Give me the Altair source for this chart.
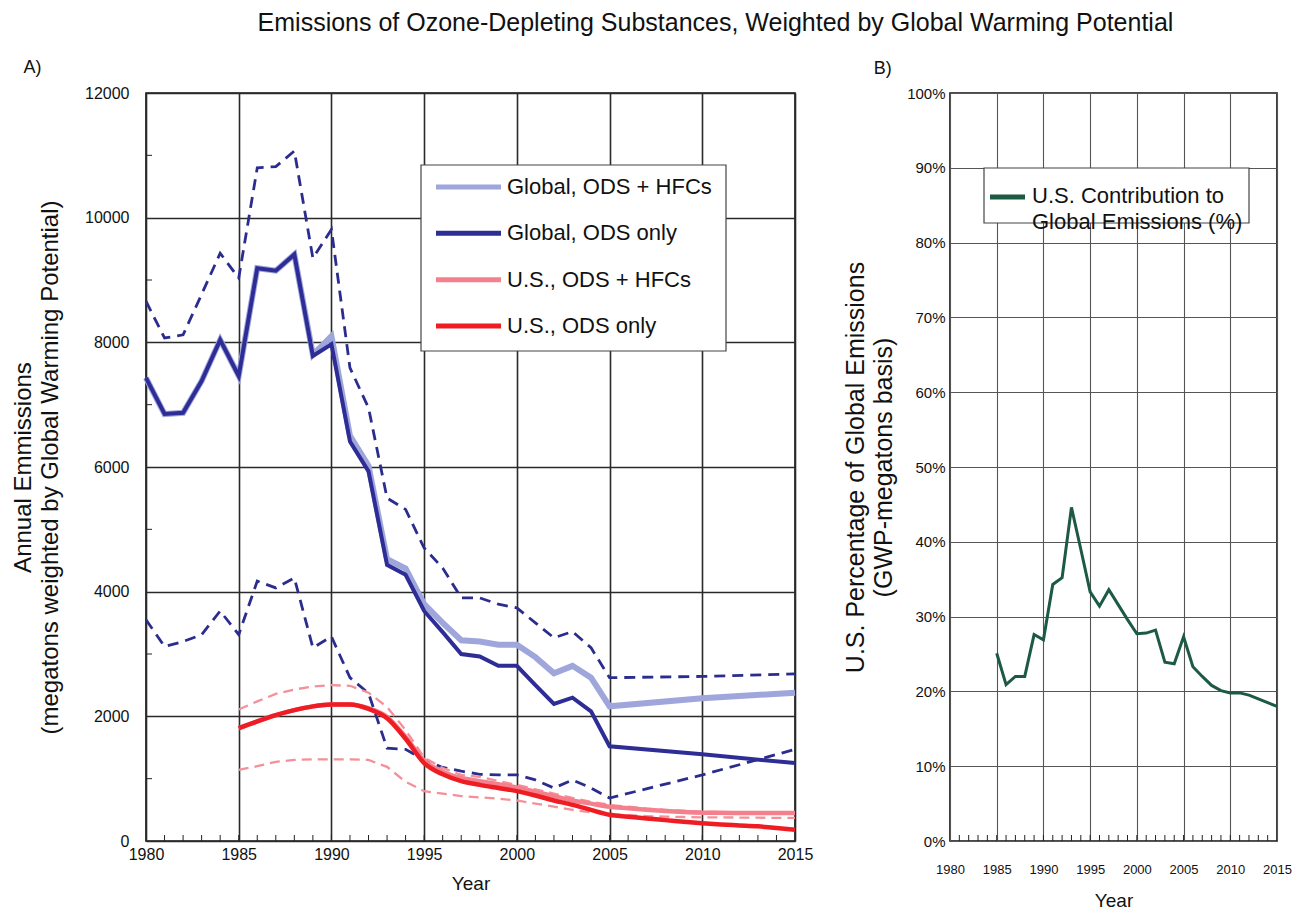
import altair as alt
import pandas as pd

FONT = "Liberation Sans"

# ---------------- Panel A data ----------------
g_years = list(range(1980, 2006)) + [2010, 2015]
global_ods = [7430, 6850, 6870, 7380, 8040, 7460, 9190, 9150, 9410, 7780,
              7970, 6410, 5930, 4430, 4270, 3690, 3350, 3000, 2960, 2810,
              2810, 2500, 2200, 2300, 2080, 1520, 1390, 1250]
global_hfc = [7430, 6850, 6870, 7380, 8040, 7460, 9190, 9150, 9410, 7800,
              8100, 6500, 6020, 4520, 4370, 3800, 3500, 3220, 3200, 3150,
              3150, 2950, 2690, 2810, 2620, 2160, 2290, 2380]
global_hi = [8660, 8070, 8120, 8770, 9430, 9030, 10800, 10820, 11070, 9350,
             9810, 7590, 6950, 5500, 5320, 4700, 4380, 3900, 3900, 3800,
             3740, 3500, 3260, 3360, 3100, 2620, 2640, 2680]
global_lo = [3550, 3120, 3200, 3310, 3690, 3310, 4170, 4060, 4220, 3100,
             3280, 2620, 2370, 1490, 1470, 1300, 1180, 1120, 1070, 1060,
             1060, 980, 850, 980, 850, 690, 1060, 1470]

us_years = list(range(1985, 2016))
us_ods = [1810, 1920, 2020, 2100, 2160, 2190, 2190, 2120, 1970, 1640,
          1250, 1070, 960, 900, 850, 800, 730, 650, 580, 500,
          420, 390, 360, 335, 310, 285, 265, 250, 235, 210, 180]
us_hfc = [1810, 1920, 2020, 2100, 2160, 2190, 2190, 2130, 1990, 1670,
          1290, 1110, 1010, 960, 910, 860, 790, 720, 650, 600,
          550, 525, 500, 480, 465, 455, 452, 450, 450, 450, 450]
us_hi = [2110, 2240, 2360, 2430, 2480, 2500, 2490, 2380, 2150, 1780,
         1340, 1170, 1060, 1030, 960, 900, 830, 760, 690, 630,
         580, 550, 520, 500, 485, 470, 465, 460, 455, 450, 450]
us_lo = [1140, 1200, 1270, 1300, 1310, 1310, 1310, 1300, 1190, 950,
         800, 760, 720, 700, 680, 650, 600, 550, 500, 460,
         430, 415, 400, 390, 385, 380, 378, 376, 374, 372, 370]

series_names = ["Global, ODS + HFCs", "Global, ODS only",
                "U.S., ODS + HFCs", "U.S., ODS only"]
series_colors = ["#9ea6dc", "#2e2d96", "#f3808c", "#ee1d23"]

year_ticks = [1980, 1985, 1990, 1995, 2000, 2005, 2010, 2015]
emis_ticks = [0, 2000, 4000, 6000, 8000, 10000, 12000]
emis_minor = [1000, 3000, 5000, 7000, 9000, 11000]
minor_years = list(range(1981, 2015))

# ---------------- Panel B data ----------------
pct_years = list(range(1985, 2016))
us_pct = [25.1, 20.9, 22.0, 22.0, 27.6, 26.9, 34.3, 35.2, 44.6, 39.0,
          33.3, 31.4, 33.6, 31.6, 29.6, 27.7, 27.8, 28.2, 23.9, 23.7,
          27.3, 23.3, 22.0, 20.8, 20.1, 19.8, 19.8, 19.5, 19.0, 18.5, 18.0]
pct_ticks = [0, 10, 20, 30, 40, 50, 60, 70, 80, 90, 100]
pct_legend = ["U.S. Contribution to", "Global Emissions (%)"]
green = "#1d5a43"

# ---------------- build tables ----------------
def frame(years, vals, name):
    return pd.DataFrame({"year": years, "value": vals, "series": name})

df_g_hfc = frame(g_years, global_hfc, series_names[0])
df_g_ods = frame(g_years, global_ods, series_names[1])
df_u_hfc = frame(us_years, us_hfc, series_names[2])
df_u_ods = frame(us_years, us_ods, series_names[3])
df_g_hi = frame(g_years, global_hi, "g_hi")
df_g_lo = frame(g_years, global_lo, "g_lo")
df_u_hi = frame(us_years, us_hi, "u_hi")
df_u_lo = frame(us_years, us_lo, "u_lo")
one = pd.DataFrame({"a": [0]})

W_A, H = 649, 748
W_B = 327

xA = alt.X("year:Q", scale=alt.Scale(domain=[1980, 2015], nice=False),
           axis=alt.Axis(values=year_ticks, format="d", title="Year",
                         labelFontSize=16, labelPadding=5, tickSize=0,
                         titleFontSize=19, titleFontWeight="normal", titlePadding=12,
                         grid=True, gridColor="#2a2a2a", gridWidth=1.6,
                         domain=False, labelFlush=False))
yA = alt.Y("value:Q", scale=alt.Scale(domain=[0, 12000], nice=False),
           axis=alt.Axis(values=emis_ticks, format="d",
                         title=["Annual Emmissions",
                                "(megatons weighted by Global Warming Potential)"],
                         labelFontSize=16, labelPadding=17, tickSize=0,
                         titleFontSize=24, titleFontWeight="normal",
                         titleLineHeight=27, titlePadding=22,
                         grid=True, gridColor="#2a2a2a", gridWidth=1.6,
                         domain=False))

color_enc = alt.Color("series:N",
                      scale=alt.Scale(domain=series_names, range=series_colors),
                      legend=None)

base_x = alt.X("year:Q", scale=alt.Scale(domain=[1980, 2015], nice=False))
base_y = alt.Y("value:Q", scale=alt.Scale(domain=[0, 12000], nice=False))


def dashed(df, color, width, dash):
    return alt.Chart(df).mark_line(color=color, strokeWidth=width,
                                   strokeDash=dash).encode(x=base_x, y=base_y)


def solid(df, width, interp="linear"):
    return alt.Chart(df).mark_line(strokeWidth=width, interpolate=interp).encode(
        x=base_x, y=base_y, color=color_enc)


grid_layer = alt.Chart(df_g_ods).mark_line(opacity=0).encode(x=xA, y=yA)

minor_x = alt.Chart(pd.DataFrame({"year": minor_years})).mark_rule(
    color="#222", strokeWidth=1).encode(x=base_x, y=alt.value(H), y2=alt.value(H - 6))
minor_y = alt.Chart(pd.DataFrame({"value": emis_minor})).mark_rule(
    color="#222", strokeWidth=1).encode(y=base_y, x=alt.value(0), x2=alt.value(6))

data_group = alt.layer(
    grid_layer,
    minor_x, minor_y,
    dashed(df_g_hi, "#2b2d8e", 2.8, [11, 7]),
    dashed(df_g_lo, "#2b2d8e", 2.8, [11, 7]),
    solid(df_g_hfc, 6),
    solid(df_g_ods, 4),
    dashed(df_u_hi, "#f4909a", 2.3, [10, 6]),
    dashed(df_u_lo, "#f4909a", 2.3, [10, 6]),
    solid(df_u_hfc, 4.5, "monotone"),
    solid(df_u_ods, 4.5, "monotone"),
)

# manual legend for panel A
legend_df = pd.DataFrame({"series": series_names, "row": list(range(len(series_names)))})
leg_y = alt.Y("row:Q", scale=alt.Scale(domain=[0, 3], range=[94, 233]), axis=None)
legend_box = alt.Chart(one).mark_rect(fill="white", stroke="#444", strokeWidth=1.2).encode(
    x=alt.value(275), x2=alt.value(580), y=alt.value(72), y2=alt.value(258))
legend_lines = alt.Chart(legend_df).mark_rule(strokeWidth=5).encode(
    x=alt.value(290), x2=alt.value(355), y=leg_y, color=color_enc)
legend_text = alt.Chart(legend_df).mark_text(
    align="left", baseline="middle", fontSize=22, color="#111", font=FONT).encode(
    x=alt.value(361), y=leg_y, text="series:N")
legend_group = alt.layer(legend_box, legend_lines, legend_text)

panelA = alt.layer(data_group, legend_group).resolve_scale(y="independent").properties(
    width=W_A, height=H,
    title=alt.TitleParams("A)", anchor="start", frame="bounds", fontSize=18,
                          fontWeight="normal", offset=8, dx=12),
)

# ---------------- Panel B ----------------
df_pct = pd.DataFrame({"year": pct_years, "value": us_pct})

xB = alt.X("year:Q", scale=alt.Scale(domain=[1980, 2015], nice=False),
           axis=alt.Axis(values=year_ticks, format="d", title="Year",
                         labelFontSize=13, labelPadding=22, tickSize=0,
                         titleFontSize=19, titleFontWeight="normal", titlePadding=15,
                         grid=True, gridColor="#555", gridWidth=1.1,
                         domain=False, labelFlush=False))
yB = alt.Y("value:Q", scale=alt.Scale(domain=[0, 100], nice=False),
           axis=alt.Axis(values=pct_ticks, labelExpr="datum.value + '%'",
                         title=["U.S. Percentage of Global Emissions",
                                "(GWP-megatons basis)"],
                         labelFontSize=15, labelPadding=5, tickSize=0,
                         titleFontSize=25, titleFontWeight="normal",
                         titleLineHeight=28, titlePadding=10,
                         grid=True, gridColor="#555", gridWidth=1.1,
                         domain=False))

bx = alt.X("year:Q", scale=alt.Scale(domain=[1980, 2015], nice=False))
minor_xB = alt.Chart(pd.DataFrame({"year": minor_years})).mark_rule(
    color="#222", strokeWidth=1).encode(x=bx, y=alt.value(H), y2=alt.value(H - 6))

lineB = alt.Chart(df_pct).mark_line(strokeWidth=3, color=green).encode(x=xB, y=yB)

legB_box = alt.Chart(one).mark_rect(fill="white", stroke="#444", strokeWidth=1.2).encode(
    x=alt.value(34), x2=alt.value(299), y=alt.value(75), y2=alt.value(130))
legB_line = alt.Chart(one).mark_rule(strokeWidth=5, color=green).encode(
    x=alt.value(40), x2=alt.value(75), y=alt.value(104))
legB_text = alt.Chart(one).mark_text(
    align="left", baseline="middle", fontSize=22, lineHeight=26, color="#111",
    font=FONT, text=pct_legend).encode(x=alt.value(82), y=alt.value(103))

panelB = alt.layer(minor_xB, lineB, legB_box, legB_line, legB_text).properties(
    width=W_B, height=H,
    title=alt.TitleParams("B)", anchor="start", frame="bounds", fontSize=18,
                          fontWeight="normal", offset=8, dx=30),
)

chart = alt.hconcat(panelA, panelB, spacing=28).properties(
    title=alt.TitleParams(
        "Emissions of Ozone-Depleting Substances, Weighted by Global Warming Potential",
        fontSize=25, fontWeight="normal", anchor="middle", dx=64, offset=22),
    padding={"left": 2, "top": 3, "right": 5, "bottom": 5},
).configure(
    font=FONT,
).configure_view(
    stroke="#111", strokeWidth=1.6,
).configure_axis(
    labelColor="#111", titleColor="#111", labelFont=FONT, titleFont=FONT,
).configure_title(
    font=FONT, color="#111",
)

chart.save("out.html", embed_options={"renderer": "svg", "actions": False})
